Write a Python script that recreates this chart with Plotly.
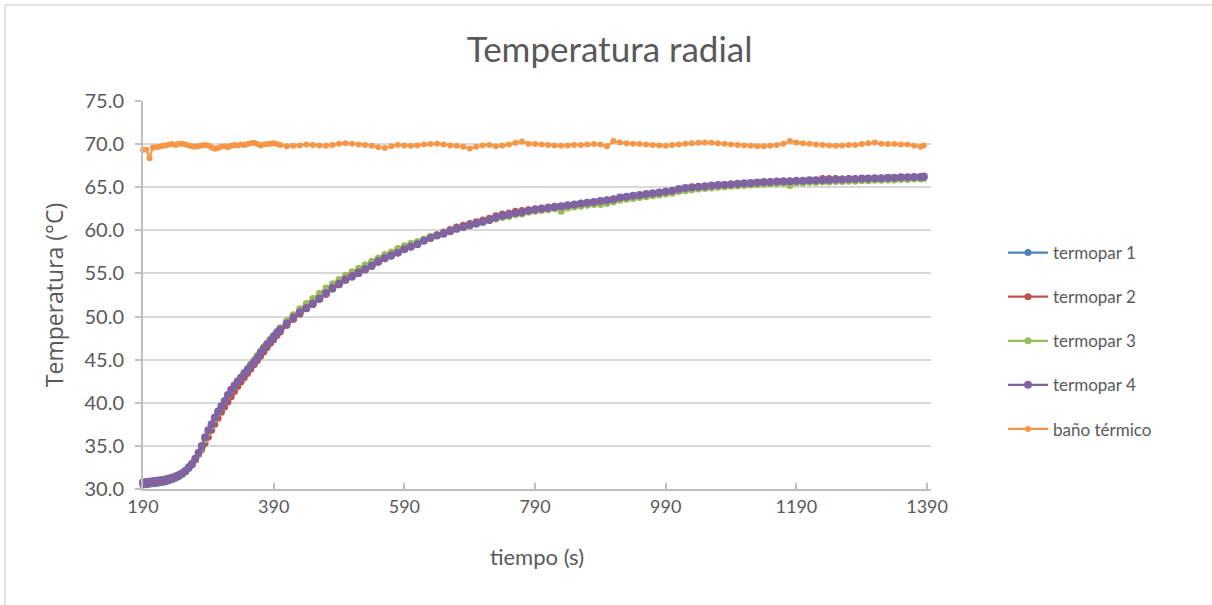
import plotly.graph_objects as go

# sample times (s)
tiempo = list(range(190, 401, 5)) + list(range(410, 1381, 10)) + [1385]

termopar_4 = [
    30.75, 30.8, 30.85, 30.9, 30.95, 31.0, 31.05, 31.1, 31.2, 31.3,
    31.45, 31.6, 31.8, 32.1, 32.5, 32.9, 33.5, 34.2, 35.0, 36.0,
    36.8, 37.5, 38.3, 39.0, 39.6, 40.2, 40.9, 41.5, 42.0, 42.5,
    42.9, 43.4, 43.8, 44.3, 44.7, 45.2, 45.8, 46.3, 46.8, 47.2,
    47.7, 48.1, 48.5,
    49.2, 49.9, 50.5, 51.0, 51.5, 52.1, 52.7, 53.3, 53.8, 54.3,
    54.7, 55.1, 55.5, 55.9, 56.4, 56.8, 57.1, 57.4, 57.8, 58.1,
    58.4, 58.8, 59.1, 59.4, 59.6, 59.9, 60.2, 60.4, 60.6, 60.8,
    61.0, 61.2, 61.5, 61.7, 61.8, 62.0, 62.1, 62.3, 62.4, 62.5,
    62.6, 62.7, 62.8, 62.9, 63.0, 63.1, 63.2, 63.3, 63.4, 63.5,
    63.6, 63.8, 63.9, 64.0, 64.1, 64.2, 64.3, 64.4, 64.5, 64.6,
    64.8, 64.9, 65.0, 65.05, 65.1, 65.2, 65.25, 65.3, 65.35, 65.4,
    65.45, 65.5, 65.55, 65.6, 65.6, 65.65, 65.7, 65.7, 65.75, 65.75,
    65.8, 65.8, 65.85, 65.85, 65.9, 65.9, 65.95, 65.95, 66.0, 66.0,
    66.05, 66.05, 66.1, 66.1, 66.15, 66.15, 66.2, 66.2, 66.25,
]

termopar_1 = [
    30.45, 30.5, 30.55, 30.6, 30.65, 30.7, 30.75, 30.85, 30.95, 31.1,
    31.25, 31.45, 31.7, 32.0, 32.4, 32.8, 33.4, 34.1, 34.9, 35.8,
    36.6, 37.3, 38.0, 38.7, 39.3, 39.9, 40.6, 41.2, 41.7, 42.2,
    42.7, 43.2, 43.6, 44.1, 44.5, 45.0, 45.6, 46.1, 46.6, 47.0,
    47.5, 47.9, 48.3,
    49.0, 49.7, 50.3, 50.9, 51.4, 52.0, 52.6, 53.2, 53.7, 54.2,
    54.6, 55.0, 55.5, 55.9, 56.3, 56.7, 57.0, 57.4, 57.8, 58.1,
    58.4, 58.8, 59.1, 59.4, 59.7, 59.9, 60.2, 60.4, 60.7, 60.9,
    61.1, 61.3, 61.5, 61.7, 61.9, 62.0, 62.2, 62.3, 62.4, 62.5,
    62.6, 62.7, 62.8, 62.9, 63.0, 63.1, 63.2, 63.3, 63.4, 63.5,
    63.6, 63.7, 63.8, 63.9, 64.0, 64.1, 64.2, 64.3, 64.4, 64.5,
    64.6, 64.7, 64.8, 64.9, 64.95, 65.05, 65.1, 65.15, 65.2, 65.3,
    65.35, 65.4, 65.45, 65.5, 65.5, 65.55, 65.6, 65.65, 65.65, 65.7,
    65.7, 65.75, 65.75, 65.8, 65.8, 65.85, 65.85, 65.9, 65.9, 65.95,
    65.95, 66.0, 66.0, 66.05, 66.05, 66.1, 66.1, 66.15, 66.2,
]

termopar_2 = [
    30.6, 30.65, 30.7, 30.75, 30.8, 30.85, 30.9, 31.0, 31.1, 31.2,
    31.35, 31.55, 31.8, 32.1, 32.5, 32.9, 33.4, 34.0, 34.6, 35.3,
    36.0, 36.8, 37.5, 38.2, 38.9, 39.5, 40.1, 40.7, 41.3, 41.9,
    42.4, 42.9, 43.4, 43.9, 44.4, 44.9, 45.4, 45.9, 46.4, 46.9,
    47.3, 47.8, 48.2,
    49.0, 49.7, 50.3, 50.9, 51.4, 52.0, 52.6, 53.2, 53.7, 54.2,
    54.6, 55.0, 55.4, 55.8, 56.3, 56.7, 57.1, 57.4, 57.8, 58.1,
    58.5, 58.9, 59.2, 59.5, 59.8, 60.1, 60.4, 60.6, 60.8, 61.0,
    61.2, 61.4, 61.7, 61.9, 62.0, 62.2, 62.3, 62.4, 62.5, 62.6,
    62.7, 62.8, 62.8, 62.9, 63.0, 63.1, 63.2, 63.3, 63.4, 63.5,
    63.6, 63.7, 63.8, 63.9, 64.0, 64.1, 64.2, 64.3, 64.4, 64.5,
    64.7, 64.8, 64.9, 65.0, 65.05, 65.1, 65.2, 65.25, 65.3, 65.35,
    65.4, 65.45, 65.5, 65.55, 65.6, 65.6, 65.65, 65.7, 65.7, 65.75,
    65.8, 65.85, 66.0, 66.0, 66.0, 65.95, 65.95, 65.95, 66.0, 66.0,
    66.0, 66.05, 66.1, 66.1, 66.1, 66.15, 66.15, 66.2, 66.2,
]

termopar_3 = [
    30.8, 30.85, 30.9, 30.95, 31.0, 31.05, 31.1, 31.2, 31.3, 31.4,
    31.55, 31.7, 31.9, 32.2, 32.6, 33.0, 33.5, 34.1, 34.8, 35.7,
    36.5, 37.3, 38.1, 38.8, 39.5, 40.1, 40.8, 41.4, 41.9, 42.5,
    43.0, 43.5, 44.0, 44.5, 45.0, 45.5, 46.0, 46.5, 46.9, 47.4,
    47.8, 48.3, 48.7,
    49.5, 50.2, 50.9, 51.5, 52.1, 52.7, 53.3, 53.8, 54.3, 54.8,
    55.2, 55.6, 56.0, 56.4, 56.8, 57.2, 57.5, 57.9, 58.2, 58.5,
    58.7, 59.0, 59.3, 59.5, 59.7, 59.9, 60.1, 60.3, 60.5, 60.7,
    60.9, 61.1, 61.3, 61.5, 61.6, 61.8, 61.9, 62.1, 62.2, 62.3,
    62.4, 62.5, 62.2, 62.6, 62.7, 62.8, 62.9, 63.0, 63.0, 63.1,
    63.3, 63.5, 63.6, 63.7, 63.8, 63.9, 64.0, 64.1, 64.2, 64.3,
    64.5, 64.6, 64.7, 64.8, 64.85, 64.9, 65.0, 65.05, 65.1, 65.15,
    65.2, 65.25, 65.3, 65.35, 65.4, 65.4, 65.45, 65.2, 65.5, 65.5,
    65.55, 65.55, 65.6, 65.6, 65.65, 65.65, 65.7, 65.7, 65.75, 65.75,
    65.8, 65.8, 65.85, 65.85, 65.9, 65.9, 65.95, 65.95, 66.0,
]

bano_termico = [
    69.35, 69.35, 68.35, 69.6, 69.65, 69.7, 69.8, 69.85, 69.95, 70.0,
    69.9, 70.05, 70.05, 69.95, 69.85, 69.75, 69.7, 69.75, 69.85, 69.9,
    69.8, 69.6, 69.45, 69.55, 69.7, 69.75, 69.65, 69.8, 69.9, 69.85,
    69.95, 69.9, 70.0, 70.1, 70.15, 70.0, 69.85, 69.95, 70.0, 70.05,
    70.1, 70.0, 69.9,
    69.75, 69.8, 69.85, 69.95, 69.9, 69.85, 69.8, 69.9, 70.05, 70.1,
    70.05, 69.95, 69.9, 69.8, 69.65, 69.55, 69.75, 69.9, 69.85, 69.8,
    69.85, 69.95, 70.0, 70.05, 69.95, 69.85, 69.8, 69.7, 69.5, 69.7,
    69.85, 69.9, 69.75, 69.85, 69.95, 70.15, 70.3, 70.05, 70.0, 69.95,
    69.9, 69.85, 69.8, 69.85, 69.9, 69.9, 69.95, 70.0, 69.95, 69.75,
    70.35, 70.2, 70.1, 70.05, 70.0, 69.95, 69.9, 69.85, 69.8, 69.9,
    69.95, 70.05, 70.1, 70.15, 70.2, 70.15, 70.1, 70.05, 69.95, 69.9,
    69.85, 69.8, 69.75, 69.75, 69.8, 69.9, 70.05, 70.35, 70.2, 70.1,
    70.05, 69.95, 69.9, 69.85, 69.8, 69.85, 69.9, 69.9, 70.0, 70.1,
    70.2, 70.05, 70.0, 70.0, 69.95, 69.95, 69.8, 69.7, 69.85,
]

series_names = ["termopar 1", "termopar 2", "termopar 3", "termopar 4", "baño térmico"]
series_values = [termopar_1, termopar_2, termopar_3, termopar_4, bano_termico]
series_colors = ["#4F81BD", "#C0504D", "#9BBB59", "#8064A2", "#F79646"]
marker_sizes = [7, 7, 7, 8, 6]

x_ticks = [190, 390, 590, 790, 990, 1190, 1390]
y_ticks = [30, 35, 40, 45, 50, 55, 60, 65, 70, 75]

for v in series_values:
    assert len(v) == len(tiempo), (len(v), len(tiempo))

FONT = "Lato"
GRAY = "#595959"

fig = go.Figure()
for i, (name, vals, col, ms) in enumerate(zip(series_names, series_values, series_colors, marker_sizes)):
    fig.add_trace(go.Scatter(
        x=tiempo, y=vals, name=name, mode="lines+markers",
        line=dict(color=col, width=2.25),
        marker=dict(color=col, size=ms),
        cliponaxis=False, legendgroup=f"g{i}",
    ))

L, R, T, B = 143, 931, 101, 489
W, H = 1212, 605
pw, ph = R - L, B - T

fig.update_layout(
    width=W, height=H,
    margin=dict(l=L, r=W - R, t=T, b=H - B, pad=0),
    paper_bgcolor="white", plot_bgcolor="white",
    font=dict(family=FONT, color=GRAY, size=17),
    title=dict(text="Temperatura radial", x=0.503, xref="container",
               y=1 - 50 / H, yanchor="middle", xanchor="center",
               font=dict(size=35, color=GRAY, family=FONT)),
    showlegend=True,
    legend=dict(x=(1003 - L) / pw, xanchor="left", y=(B - 341) / ph, yanchor="middle",
                font=dict(size=17, color=GRAY, family=FONT),
                tracegroupgap=19, bgcolor="rgba(0,0,0,0)", itemwidth=40),
    xaxis=dict(
        range=[190, 1396], tickmode="array", tickvals=x_ticks,
        ticktext=[str(t) for t in x_ticks],
        showgrid=False, zeroline=False,
        showline=True, linecolor="#BFBFBF", linewidth=2,
        ticks="inside", ticklen=6, tickcolor="#BFBFBF", tickwidth=2,
        tickfont=dict(size=18, color=GRAY, family=FONT),
        title=dict(text="tiempo (s)", font=dict(size=22, color=GRAY, family=FONT), standoff=34),
    ),
    yaxis=dict(
        range=[30, 75], tickmode="array", tickvals=y_ticks,
        ticktext=[f"{v:.1f}" for v in y_ticks],
        showgrid=True, gridcolor="#D9D9D9", gridwidth=2, zeroline=False,
        showline=True, linecolor="#BFBFBF", linewidth=2,
        ticks="outside", ticklen=6, tickcolor="#BFBFBF", tickwidth=2,
        ticklabelstandoff=7,
        tickfont=dict(size=20, color=GRAY, family=FONT),
        title=dict(text="Temperatura (°C)", font=dict(size=23, color=GRAY, family="Open Sans"), standoff=14),
    ),
    shapes=[
        dict(type="line", xref="paper", yref="paper",
             x0=(5 - L) / pw, x1=(W - L) / pw, y0=(B - 5) / ph, y1=(B - 5) / ph,
             line=dict(color="#D9D9D9", width=1.5)),
        dict(type="line", xref="paper", yref="paper",
             x0=(5 - L) / pw, x1=(5 - L) / pw, y0=(B - 5) / ph, y1=(B - H) / ph,
             line=dict(color="#D9D9D9", width=1.5)),
    ],
)

fig.write_html("out.html", config={"displayModeBar": False},
               post_script="document.body.style.margin='0px';")
